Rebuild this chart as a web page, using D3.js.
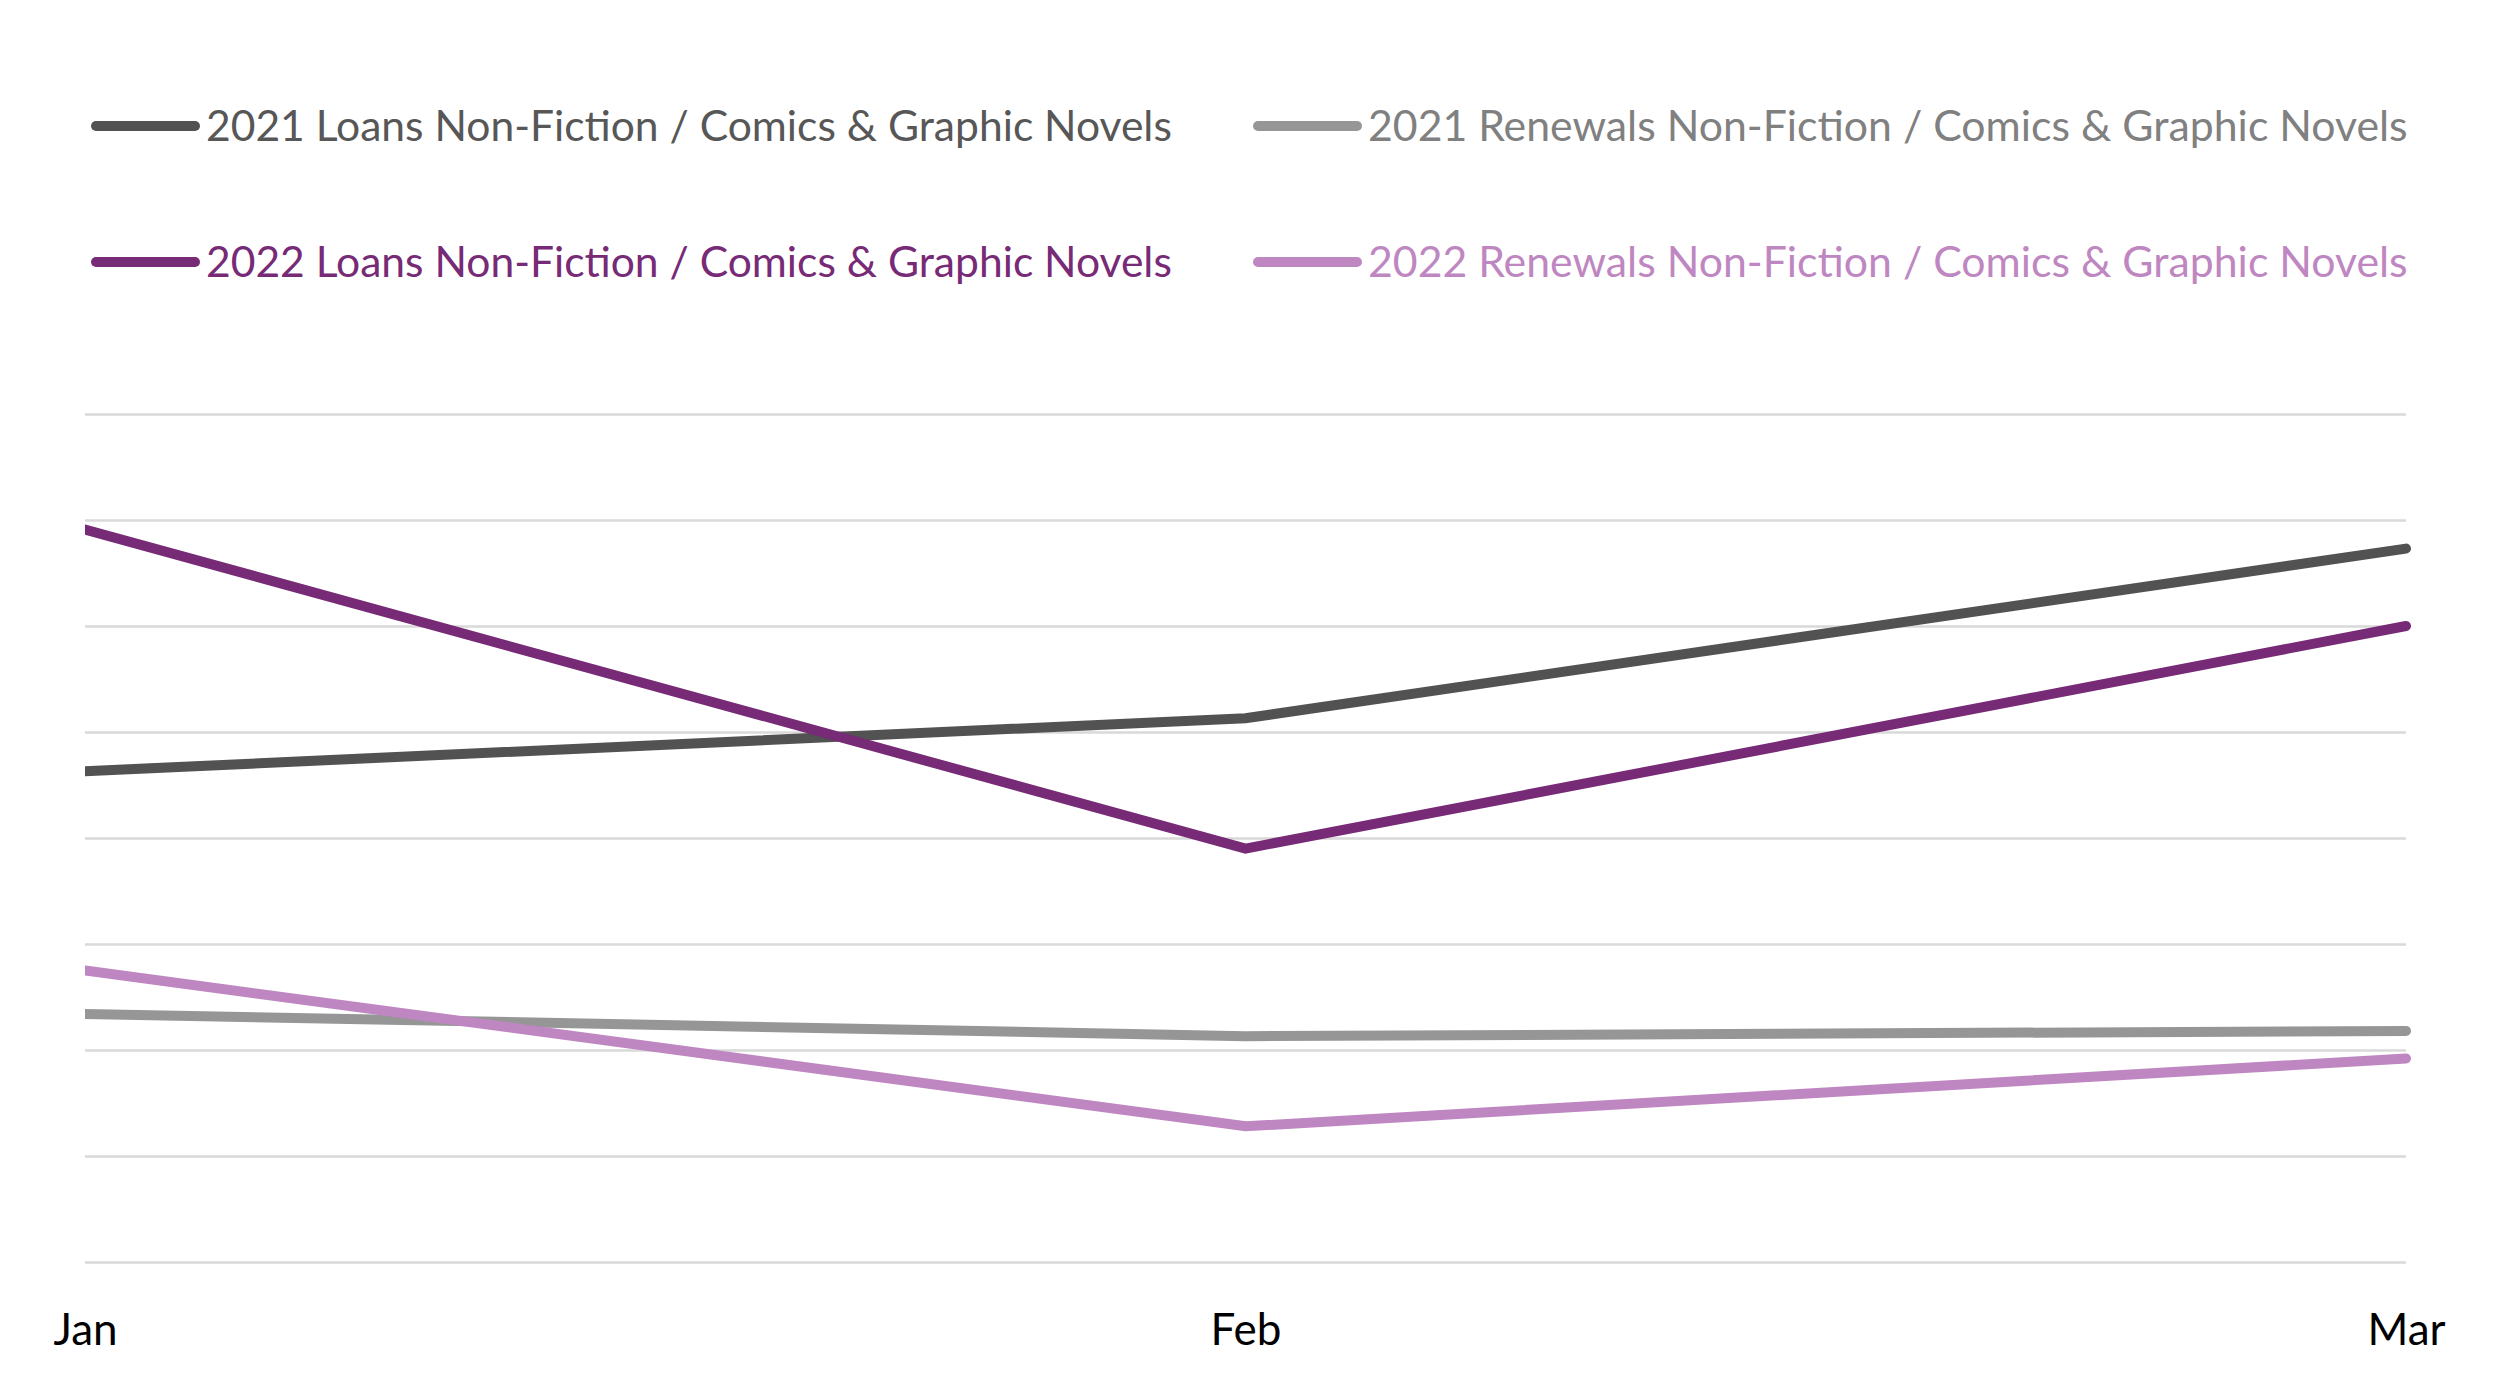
<!DOCTYPE html>
<html>
<head>
<meta charset="utf-8">
<script src="https://cdn.jsdelivr.net/npm/d3@7"></script>
<style>
  html, body { margin: 0; padding: 0; background: #ffffff; }
  svg { display: block; }
</style>
</head>
<body>
<svg id="chart" width="2500" height="1384"></svg>
<script>
// ---- data ----
const months = ["Jan", "Feb", "Mar"];
const seriesNames = [
  "2021 Loans Non-Fiction / Comics & Graphic Novels",
  "2021 Renewals Non-Fiction / Comics & Graphic Novels",
  "2022 Loans Non-Fiction / Comics & Graphic Novels",
  "2022 Renewals Non-Fiction / Comics & Graphic Novels"
];
const loans2021 = [463, 513, 673];
const renewals2021 = [234, 213, 218];
const loans2022 = [691, 390, 600];
const renewals2022 = [275, 128, 192];
const yTicks = [0, 100, 200, 300, 400, 500, 600, 700, 800];

// ---- styles ----
const lineColors = ["#525252", "#969696", "#772A76", "#BF87C1"];
const textColors = ["#575757", "#808080", "#772A76", "#BF87C1"];
const seriesValues = [loans2021, renewals2021, loans2022, renewals2022];

(function () {
const svg = d3.select("#chart");
const pLeft = 85, pRight = 2406, pTop = 414, pBottom = 1262;

const x = d3.scalePoint().domain(months).range([pLeft, pRight]);
const y = d3.scaleLinear().domain([0, 800]).range([pBottom, pTop]);

// gridlines
const yAxis = d3.axisLeft(y).tickValues(yTicks).tickSize(-(pRight - pLeft)).tickFormat("");
const gy = svg.append("g").attr("transform", `translate(${pLeft},0)`).call(yAxis);
gy.select(".domain").remove();
gy.selectAll(".tick line").attr("stroke", "#d9d9d9").attr("stroke-width", 2.5);

// x axis labels
const xAxis = d3.axisBottom(x).tickSize(0).tickPadding(0);
const gx = svg.append("g").attr("transform", `translate(0,${pBottom})`).call(xAxis);
gx.select(".domain").remove();
gx.selectAll(".tick text")
  .attr("y", 68)
  .attr("dy", "0.35em")
  .attr("fill", "#000")
  .style("font-family", "Lato, 'Open Sans', sans-serif")
  .style("font-size", "44px");

// clip (flat cut on the left edge, round cap at the right)
svg.append("clipPath").attr("id", "clip")
  .append("rect").attr("x", pLeft).attr("y", 0).attr("width", 2500 - pLeft).attr("height", 1384);

const line = d3.line().x((d, i) => x(months[i])).y(d => y(d));

const order = [0, 1, 3, 2];
const gl = svg.append("g").attr("clip-path", "url(#clip)");
gl.selectAll("path")
  .data(order)
  .join("path")
  .attr("d", k => line(seriesValues[k]))
  .attr("fill", "none")
  .attr("stroke", k => lineColors[k])
  .attr("stroke-width", 10)
  .attr("stroke-linecap", "round")
  .attr("stroke-linejoin", "miter");

// legend
const legendPos = [
  { lx: 96, ty: 126, tw: 966 },
  { lx: 1258, ty: 126, tw: 1040 },
  { lx: 96, ty: 262, tw: 966 },
  { lx: 1258, ty: 262, tw: 1040 }
];
const lg = svg.append("g");
seriesNames.forEach((name, i) => {
  const p = legendPos[i];
  lg.append("line")
    .attr("x1", p.lx).attr("x2", p.lx + 99)
    .attr("y1", p.ty).attr("y2", p.ty)
    .attr("stroke", lineColors[i])
    .attr("stroke-width", 10)
    .attr("stroke-linecap", "round");
  const t = lg.append("text")
    .attr("x", p.lx + 110)
    .attr("y", p.ty)
    .attr("dy", "0.35em")
    .attr("fill", textColors[i])
    .style("font-family", "Lato, 'Open Sans', sans-serif")
    .style("font-size", "39px")
    .text(name);
  const w = t.node().getComputedTextLength();
  if (w > 0) {
    const fs = 39 * p.tw / w;
    t.style("font-size", Math.min(fs, 44) + "px");
  }
});
})();
</script>
</body>
</html>
